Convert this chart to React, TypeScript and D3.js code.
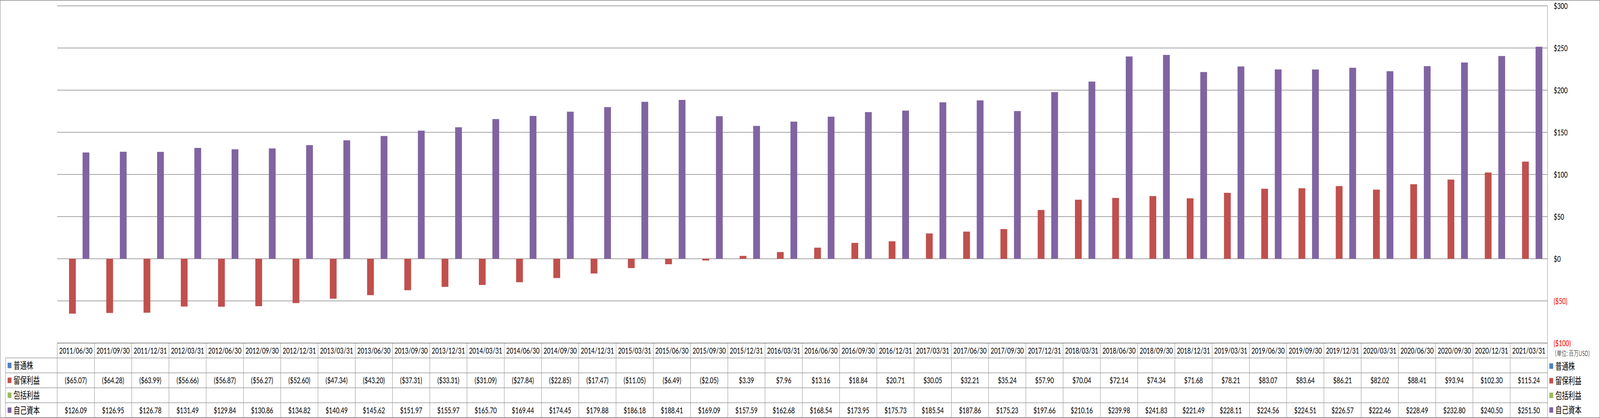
import { useEffect } from "react";
import * as d3 from "d3";

const dates = [
  "2011/06/30", "2011/09/30", "2011/12/31", "2012/03/31", "2012/06/30", "2012/09/30", "2012/12/31",
  "2013/03/31", "2013/06/30", "2013/09/30", "2013/12/31", "2014/03/31", "2014/06/30", "2014/09/30",
  "2014/12/31", "2015/03/31", "2015/06/30", "2015/09/30", "2015/12/31", "2016/03/31", "2016/06/30",
  "2016/09/30", "2016/12/31", "2017/03/31", "2017/06/30", "2017/09/30", "2017/12/31", "2018/03/31",
  "2018/06/30", "2018/09/30", "2018/12/31", "2019/03/31", "2019/06/30", "2019/09/30", "2019/12/31",
  "2020/03/31", "2020/06/30", "2020/09/30", "2020/12/31", "2021/03/31",
];

// 普通株 / 包括利益 are blank in the source table
const commonStock: number[] = [];
const retainedEarnings = [
  -65.07, -64.28, -63.99, -56.66, -56.87, -56.27, -52.6, -47.34, -43.2, -37.31, -33.31, -31.09,
  -27.84, -22.85, -17.47, -11.05, -6.49, -2.05, 3.39, 7.96, 13.16, 18.84, 20.71, 30.05, 32.21,
  35.24, 57.9, 70.04, 72.14, 74.34, 71.68, 78.21, 83.07, 83.64, 86.21, 82.02, 88.41, 93.94, 102.3,
  115.24,
];
const comprehensiveIncome: number[] = [];
const equity = [
  126.09, 126.95, 126.78, 131.49, 129.84, 130.86, 134.82, 140.49, 145.62, 151.97, 155.97, 165.7,
  169.44, 174.45, 179.88, 186.18, 188.41, 169.09, 157.59, 162.68, 168.54, 173.95, 175.73, 185.54,
  187.86, 175.23, 197.66, 210.16, 239.98, 241.83, 221.49, 228.11, 224.56, 224.51, 226.57, 222.46,
  228.49, 232.8, 240.5, 251.5,
];

const seriesNames = ["普通株", "留保利益", "包括利益", "自己資本"];
const seriesColors = ["#4F81BD", "#C0504D", "#9BBB59", "#8064A2"];
const seriesValues = [commonStock, retainedEarnings, comprehensiveIncome, equity];

const yTicks = [300, 250, 200, 150, 100, 50, 0, -50, -100];

const W = 5876;
const H = 1071;
const plotLeft = 210;
const plotRight = 5683;
const plotTop = 15;
const plotBottom = 879;
const tableBottom = 1070;
const legendLeft = 20;

const numFont = "Lato, 'Liberation Sans', sans-serif";
const cjkFont = "'Noto Sans CJK JP', sans-serif";
const gridColor = "#868686";

function fmt(v: number) {
  return v < 0 ? `($${Math.abs(v).toFixed(2)})` : `$${v.toFixed(2)}`;
}
function tickFmt(v: number) {
  return v < 0 ? `($${Math.abs(v)})` : `$${v}`;
}

export default function App() {
  useEffect(() => {
    document.body.style.margin = "0";
  }, []);

  const y = d3.scaleLinear().domain([-100, 300]).range([plotBottom, plotTop]);

  // Excel clustered column, gap width 150%
  const x0 = d3
    .scaleBand<string>()
    .domain(dates)
    .range([plotLeft, plotRight])
    .paddingInner(1.5 / 5.5)
    .paddingOuter(0.75 / 5.5);
  const x1 = d3
    .scaleBand<number>()
    .domain(d3.range(seriesNames.length))
    .range([0, x0.bandwidth()])
    .padding(0);

  const col = d3.scaleBand<string>().domain(dates).range([plotLeft, plotRight]).padding(0);
  const rowH = (tableBottom - plotBottom) / 5;

  return (
    <svg
      width="100%"
      height={H}
      viewBox={`0 0 ${W} ${H}`}
      preserveAspectRatio="none"
      style={{ display: "block" }}
    >
      <rect x={0} y={0} width={W} height={H} fill="#fff" />
      {/* outer border */}
      <rect x={0.75} y={0.75} width={W - 1.5} height={H - 1.5} fill="none" stroke={gridColor} strokeWidth={1.5} />

      {/* gridlines */}
      {yTicks.map((t) => (
        <line key={t} x1={plotLeft} x2={plotRight} y1={y(t)} y2={y(t)} stroke={gridColor} strokeWidth={1.3} />
      ))}
      <line x1={plotRight} x2={plotRight} y1={plotTop} y2={tableBottom} stroke={gridColor} strokeWidth={1.3} />

      {/* bars */}
      {seriesValues.map((vals, si) =>
        vals.map((v, i) => (
          <rect
            key={`${si}-${i}`}
            x={(x0(dates[i]) ?? 0) + (x1(si) ?? 0)}
            y={y(Math.max(0, v))}
            width={x1.bandwidth()}
            height={Math.abs(y(v) - y(0))}
            fill={seriesColors[si]}
          />
        ))
      )}

      {/* y tick labels */}
      {yTicks.map((t) => (
        <text
          key={t}
          x={5706}
          y={y(t)}
          dy="0.36em"
          fontFamily={numFont}
          fontSize={22}
          fill={t < 0 ? "#FF0000" : "#000"}
        >
          {tickFmt(t)}
        </text>
      ))}
      <text x={5699} y={906} dy="0.36em" fontFamily={cjkFont} fontSize={18} fontWeight={300} fill="#000">
        （単位: 百万USD）
      </text>

      {/* right legend */}
      {seriesNames.map((n, i) => {
        const cy = 938 + i * 37.5;
        return (
          <g key={n}>
            <rect x={5690} y={cy - 7} width={14} height={14} fill={seriesColors[i]} />
            <text x={5712} y={cy} dy="0.36em" fontFamily={cjkFont} fontSize={24} fill="#000">
              {n}
            </text>
          </g>
        );
      })}

      {/* data table */}
      <g stroke={gridColor} strokeWidth={1.3}>
        <line x1={plotLeft} x2={plotRight} y1={plotBottom} y2={plotBottom} />
        {d3.range(1, 6).map((r) => (
          <line key={r} x1={legendLeft} x2={plotRight} y1={plotBottom + r * rowH} y2={plotBottom + r * rowH} />
        ))}
        <line x1={legendLeft} x2={legendLeft} y1={plotBottom + rowH} y2={tableBottom} />
        {dates.map((d) => (
          <line key={d} x1={col(d)} x2={col(d)} y1={plotBottom} y2={tableBottom} />
        ))}
      </g>
      {dates.map((d, i) => (
        <g key={d}>
          <text
            x={(col(d) ?? 0) + col.bandwidth() / 2}
            y={plotBottom + rowH / 2}
            dy="0.36em"
            textAnchor="middle"
            fontFamily={numFont}
            fontSize={22}
          >
            {d}
          </text>
          {seriesValues.map((vals, si) =>
            vals[i] === undefined ? null : (
              <text
                key={si}
                x={(col(d) ?? 0) + col.bandwidth() / 2}
                y={plotBottom + rowH * (si + 1.5)}
                dy="0.36em"
                textAnchor="middle"
                fontFamily={numFont}
                fontSize={22}
              >
                {fmt(vals[i])}
              </text>
            )
          )}
        </g>
      ))}
      {seriesNames.map((n, i) => {
        const cy = plotBottom + rowH * (i + 1.5);
        return (
          <g key={n}>
            <rect x={28} y={cy - 7} width={14} height={14} fill={seriesColors[i]} />
            <text x={50} y={cy} dy="0.36em" fontFamily={cjkFont} fontSize={24} fill="#000">
              {n}
            </text>
          </g>
        );
      })}
    </svg>
  );
}
